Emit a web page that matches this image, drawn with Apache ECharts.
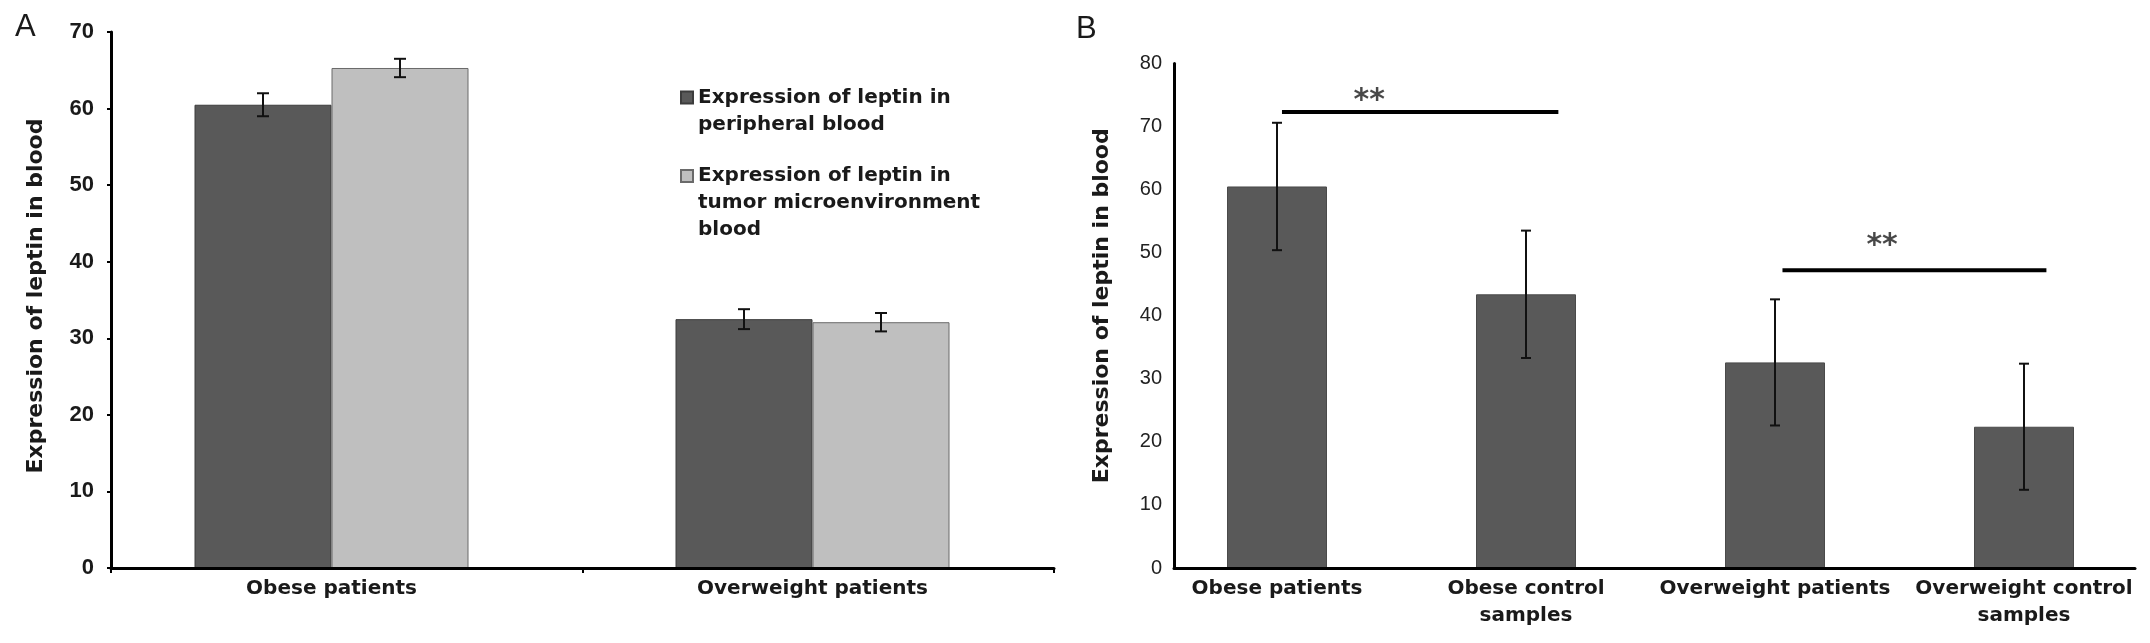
<!DOCTYPE html>
<html>
<head>
<meta charset="utf-8">
<script src="https://cdn.jsdelivr.net/npm/echarts@6/dist/echarts.min.js"></script>
<style>
html,body{margin:0;padding:0;background:#fff;}
#c{width:2150px;height:643px;}
</style>
</head>
<body>
<div id="c"></div>
<script>
// ---- Panel A data ----
var catA = ['Obese patients', 'Overweight patients'];
var peripheral = [60.5, 32.5];
var peripheralErr = [1.5, 1.3];
var tumor = [65.3, 32.1];
var tumorErr = [1.2, 1.2];
var ticksA = { min: 0, max: 70, interval: 10 };

// ---- Panel B data ----
var catB = ['Obese patients', 'Obese control\nsamples', 'Overweight patients', 'Overweight control\nsamples'];
var valuesB = [60.5, 43.4, 32.6, 22.4];
var errB = [10.1, 10.1, 10.0, 10.0];
var ticksB = { min: 0, max: 80, interval: 10 };
// significance brackets (x in category units, y in data units)
var sigFrom = [0.52, 2.53];
var sigTo = [1.63, 3.59];
var sigY = [72.3, 47.2];
var sigStarX = [0.87, 2.93];
var sigStarY = [74.0, 51.1];

var nameP = 'Expression of leptin in\nperipheral blood';
var nameT = 'Expression of leptin in\ntumor microenvironment\nblood';
var yTitle = 'Expression of leptin in blood';

var FONT = '"Liberation Sans", Arial, sans-serif';
var WIDE = '"DejaVu Sans", Verdana, sans-serif';
var TXT = '#1a1a1a';
var DARK = '#595959';
var LIGHT = '#bfbfbf';

function errRender(offsetPx, capHalf) {
  return function (params, api) {
    var x = api.value(0), v = api.value(1), e = api.value(2);
    var top = api.coord([x, v + e]);
    var bot = api.coord([x, v - e]);
    var cx = top[0] + offsetPx;
    var st = { stroke: '#111', lineWidth: 2 };
    return {
      type: 'group',
      children: [
        { type: 'line', shape: { x1: cx, y1: top[1], x2: cx, y2: bot[1] }, style: st },
        { type: 'line', shape: { x1: cx - capHalf, y1: top[1], x2: cx + capHalf, y2: top[1] }, style: st },
        { type: 'line', shape: { x1: cx - capHalf, y1: bot[1], x2: cx + capHalf, y2: bot[1] }, style: st }
      ]
    };
  };
}

// leading blank lines so the first text line sits beside the legend square
function legendFmt(name) {
  var n = name.split('\n').length;
  var pre = '';
  for (var i = 1; i < n; i++) pre += '\n';
  return pre + name;
}

var BW_A = 137;

var chart = echarts.init(document.getElementById('c'), null, { renderer: 'canvas' });

var legendText = { fontFamily: WIDE, fontSize: 20, fontWeight: 'bold', lineHeight: 27, color: TXT };

var option = {
  backgroundColor: '#fff',
  animation: false,
  title: [
    { text: 'A', left: 15, top: 12, padding: 0, textStyle: { fontFamily: FONT, fontSize: 31, fontWeight: 'normal', color: TXT } },
    { text: 'B', left: 1076, top: 14, padding: 0, textStyle: { fontFamily: FONT, fontSize: 31, fontWeight: 'normal', color: TXT } }
  ],
  legend: [
    {
      data: [nameP], orient: 'vertical', left: 680, top: 57, padding: 0,
      itemWidth: 12, itemHeight: 12, selectedMode: false, icon: 'rect',
      formatter: legendFmt, textStyle: legendText
    },
    {
      data: [nameT], orient: 'vertical', left: 680, top: 108.5, padding: 0,
      itemWidth: 12, itemHeight: 12, selectedMode: false, icon: 'rect',
      formatter: legendFmt, textStyle: legendText
    }
  ],
  grid: [
    { left: 91, width: 962, top: 32, height: 536 },     // 0: A bars
    { left: 111, width: 943, top: 32, height: 536 },    // 1: A axes
    { left: 1152.5, width: 996, top: 63.5, height: 504.5 }, // 2: B bars
    { left: 1174, width: 961, top: 63.5, height: 504.5 }    // 3: B axes
  ],
  xAxis: [
    { // 0 A categories
      type: 'category', gridIndex: 0, data: catA,
      axisLine: { show: false }, axisTick: { show: false },
      axisLabel: { fontFamily: WIDE, fontSize: 20, fontWeight: 'bold', color: TXT, margin: 7, lineHeight: 28 }
    },
    { // 1 A axis line
      type: 'value', gridIndex: 1, min: 0, max: 2, interval: 1, z: 10,
      axisLine: { show: true, lineStyle: { color: '#000', width: 3 } },
      axisTick: { show: true, length: 5, lineStyle: { color: '#000', width: 2 } },
      axisLabel: { show: false }, splitLine: { show: false }
    },
    { // 2 B categories
      type: 'category', gridIndex: 2, data: catB,
      axisLine: { show: false }, axisTick: { show: false },
      axisLabel: { fontFamily: WIDE, fontSize: 20, fontWeight: 'bold', color: TXT, margin: 7, lineHeight: 27, interval: 0 }
    },
    { // 3 B axis line
      type: 'value', gridIndex: 3, min: 0, max: 1, z: 10,
      axisLine: { show: true, lineStyle: { color: '#000', width: 3 } },
      axisTick: { show: false }, axisLabel: { show: false }, splitLine: { show: false }
    },
    { // 4 B value x for brackets
      type: 'value', gridIndex: 2, min: 0, max: catB.length, show: false, position: 'top'
    }
  ],
  yAxis: [
    { type: 'value', gridIndex: 0, min: ticksA.min, max: ticksA.max, show: false },
    {
      type: 'value', gridIndex: 1, min: ticksA.min, max: ticksA.max, interval: ticksA.interval, z: 10,
      name: yTitle, nameLocation: 'middle', nameRotate: 90, nameGap: 64,
      nameTextStyle: { fontFamily: WIDE, fontSize: 22, fontWeight: 'bold', color: TXT, padding: [0, 0, 0, 8] },
      axisLine: { show: true, lineStyle: { color: '#000', width: 3 } },
      axisTick: { show: true, length: 4, lineStyle: { color: '#000', width: 2 } },
      axisLabel: { fontFamily: FONT, fontSize: 22, fontWeight: 'bold', color: TXT, margin: 17 },
      splitLine: { show: false }
    },
    { type: 'value', gridIndex: 2, min: ticksB.min, max: ticksB.max, show: false },
    {
      type: 'value', gridIndex: 3, min: ticksB.min, max: ticksB.max, interval: ticksB.interval, z: 10,
      name: yTitle, nameLocation: 'middle', nameRotate: 90, nameGap: 61,
      nameTextStyle: { fontFamily: WIDE, fontSize: 22, fontWeight: 'bold', color: TXT, padding: [0, 0, 0, 20] },
      axisLine: { show: true, lineStyle: { color: '#000', width: 3 } },
      axisTick: { show: false },
      axisLabel: { fontFamily: FONT, fontSize: 20, fontWeight: 'normal', color: '#222', margin: 12 },
      splitLine: { show: false }
    }
  ],
  series: [
    {
      name: nameP, type: 'bar', xAxisIndex: 0, yAxisIndex: 0, data: peripheral,
      barWidth: BW_A, barGap: '0%',
      itemStyle: { color: DARK, borderColor: '#3c3c3c', borderWidth: 1 }
    },
    {
      name: nameT, type: 'bar', xAxisIndex: 0, yAxisIndex: 0, data: tumor,
      barWidth: BW_A, barGap: '0%',
      itemStyle: { color: LIGHT, borderColor: '#6a6a6a', borderWidth: 1 }
    },
    {
      type: 'custom', xAxisIndex: 0, yAxisIndex: 0, z: 5,
      renderItem: errRender(-BW_A / 2, 6),
      data: peripheral.map(function (v, i) { return [i, v, peripheralErr[i]]; })
    },
    {
      type: 'custom', xAxisIndex: 0, yAxisIndex: 0, z: 5,
      renderItem: errRender(BW_A / 2, 6),
      data: tumor.map(function (v, i) { return [i, v, tumorErr[i]]; })
    },
    {
      type: 'bar', xAxisIndex: 2, yAxisIndex: 2, data: valuesB, barWidth: 100,
      itemStyle: { color: DARK, borderColor: '#4a4a4a', borderWidth: 1 }
    },
    {
      type: 'custom', xAxisIndex: 2, yAxisIndex: 2, z: 5,
      renderItem: errRender(0, 5),
      data: valuesB.map(function (v, i) { return [i, v, errB[i]]; })
    }
  ]
};

sigFrom.forEach(function (f, k) {
  option.series.push({
    type: 'line', xAxisIndex: 4, yAxisIndex: 2, symbol: 'none', z: 6,
    lineStyle: { color: '#000', width: 4 },
    data: [[f, sigY[k]], [sigTo[k], sigY[k]]]
  });
});
option.series.push({
  type: 'scatter', xAxisIndex: 4, yAxisIndex: 2, symbolSize: 0, z: 6,
  label: {
    show: true, position: 'inside', formatter: '**',
    fontFamily: WIDE, fontSize: 30, fontWeight: 'bold', color: TXT
  },
  data: sigStarX.map(function (x, k) { return [x, sigStarY[k]]; })
});

chart.setOption(option);
</script>
</body>
</html>
